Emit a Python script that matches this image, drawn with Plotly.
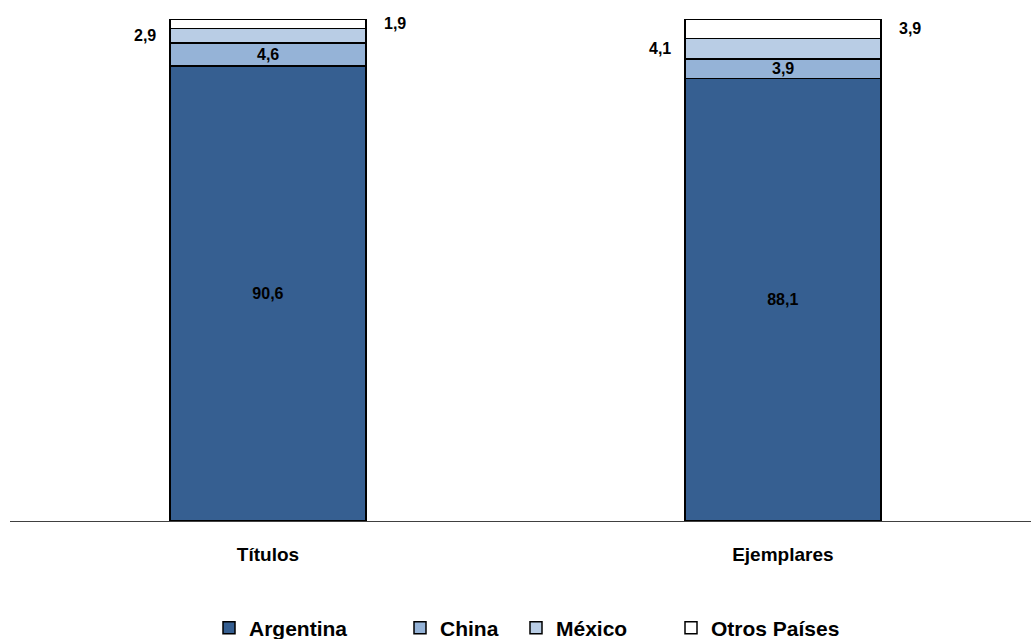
import plotly.graph_objects as go

categories = ["Títulos", "Ejemplares"]
series_names = ["Argentina", "China", "México", "Otros Países"]
argentina = [90.6, 88.1]
china = [4.6, 3.9]
mexico = [2.9, 4.1]
otros = [1.9, 3.9]

colors = ["#365F91", "#95B3D7", "#B9CDE5", "#FFFFFF"]
xs = list(range(len(categories)))
BAR_W = 0.381
FONT = "Liberation Sans, Arial"
LBL = dict(family=FONT, size=16, color="black", weight="bold")
W, H = 1031, 639
# left pixel where each legend entry's text should start
legend_text_px = [249, 440, 556, 711]
legend_ids = ["legend", "legend2", "legend3", "legend4"]


def fmt(v):
    return f"{v:.1f}".replace(".", ",")


fig = go.Figure()
series = [argentina, china, mexico, otros]
for i, (name, vals) in enumerate(zip(series_names, series)):
    first = i == 0
    fig.add_trace(go.Bar(
        x=xs, y=vals, name=name, legend=legend_ids[i],
        marker=dict(color=colors[i], line=dict(color="black", width=1.5)),
        width=BAR_W,
        text=[fmt(v) for v in vals] if first else None,
        textposition="inside" if first else "none",
        insidetextanchor="middle",
        textfont=LBL,
        textangle=0,
        hoverinfo="skip",
    ))

annotations = []
for j in xs:
    annotations.append(dict(
        x=j, y=argentina[j] + china[j] / 2, xref="x", yref="y",
        text=fmt(china[j]), showarrow=False, font=LBL,
    ))
    base_m = argentina[j] + china[j]
    annotations.append(dict(
        x=j - BAR_W / 2, y=base_m + mexico[j] / 2, xref="x", yref="y",
        text=fmt(mexico[j]), showarrow=False,
        xanchor="right", xshift=-12, font=LBL,
    ))
    base_o = base_m + mexico[j]
    annotations.append(dict(
        x=j + BAR_W / 2, y=base_o + otros[j] / 2, xref="x", yref="y",
        text=fmt(otros[j]), showarrow=False,
        xanchor="left", xshift=16, font=LBL,
    ))

legend_layout = {}
for lid, px in zip(legend_ids, legend_text_px):
    legend_layout[lid] = dict(
        orientation="h", xref="container", x=(px - 40) / W, xanchor="left",
        yref="container", y=0.017, yanchor="middle",
        font=dict(family=FONT, size=21, color="black", weight="bold"),
        itemwidth=30, bgcolor="rgba(0,0,0,0)",
    )

fig.update_layout(
    width=W, height=H,
    barmode="stack",
    plot_bgcolor="white", paper_bgcolor="white",
    margin=dict(l=10, r=0, t=19, b=118, autoexpand=False),
    xaxis=dict(
        range=[-0.501, 1.482], tickvals=xs, ticktext=categories,
        showline=True, linecolor="#404040", linewidth=1,
        showgrid=False, zeroline=False, ticks="",
        ticklabelstandoff=16,
        tickfont=dict(family=FONT, size=19, color="black", weight="bold"),
    ),
    yaxis=dict(range=[0, 100], visible=False, showgrid=False),
    showlegend=True,
    annotations=annotations,
    **legend_layout,
)

fig.write_html(
    "out.html",
    config={"displayModeBar": False},
    post_script="document.body.style.margin='0';document.body.style.overflow='hidden';",
)
